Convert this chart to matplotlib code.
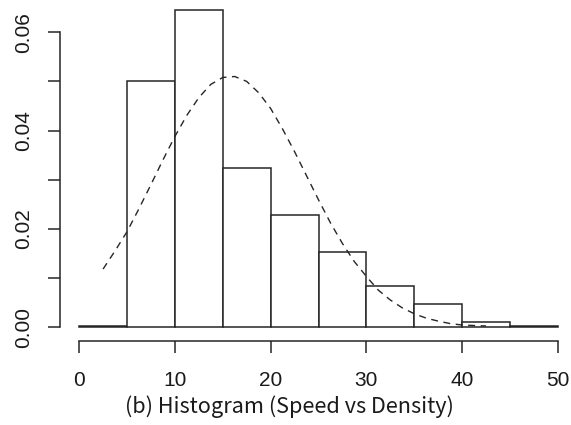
import matplotlib
matplotlib.use("Agg")
import matplotlib.pyplot as plt

# Histogram data (density), bins of width 5 from 0 to 50
bin_edges = [0, 5, 10, 15, 20, 25, 30, 35, 40, 45, 50]
densities = [0.0002, 0.0500, 0.0646, 0.0324, 0.0229, 0.0152, 0.0084, 0.0046, 0.0011, 0.0002]

# Dashed fitted density curve
curve_x = [2.5, 3.75, 5, 6.25, 7.5, 8.75, 10, 11.25, 12.5, 13.75, 15, 16.25, 17.5, 18.75,
           20, 21.25, 22.5, 23.75, 25, 26.25, 27.5, 28.75, 30, 31.25, 32.5, 33.75, 35,
           36.25, 37.5, 38.75, 40, 41.25, 42.5]
curve_y = [0.0118, 0.0155, 0.0194, 0.0241, 0.0290, 0.0340, 0.0388, 0.0431, 0.0467, 0.0494,
           0.0508, 0.0510, 0.0500, 0.0477, 0.0445, 0.0403, 0.0357, 0.0308, 0.0259, 0.0212,
           0.0170, 0.0133, 0.0103, 0.0075, 0.0055, 0.0039, 0.0027, 0.0018, 0.0012, 0.0007,
           0.0004, 0.0003, 0.0002]

x_ticks = [0, 10, 20, 30, 40, 50]
y_ticks = [0.00, 0.01, 0.02, 0.03, 0.04, 0.05, 0.06]
y_tick_labels = ["0.00", "", "0.02", "", "0.04", "", "0.06"]
x_label = "(b) Histogram (Speed vs Density)"

W, H = 571, 425
fig = plt.figure(figsize=(W / 100, H / 100), dpi=100)
left_px, right_px, bottom_px, top_px = 60, 577, 341, -3
ax = fig.add_axes([left_px / W, (H - bottom_px) / H,
                   (right_px - left_px) / W, (bottom_px - top_px) / H])

line_col = "#262626"
lw = 1.1

widths = [bin_edges[i + 1] - bin_edges[i] for i in range(len(densities))]
ax.bar(bin_edges[:-1], densities, width=widths, align="edge",
       facecolor="white", edgecolor=line_col, linewidth=lw, zorder=2)
ax.plot(curve_x, curve_y, color=line_col, linewidth=1.0, dashes=(5, 4), zorder=3)

ax.set_xlim(-2, 52)
ppu = (327 - 32.3) / 0.06
ax.set_ylim(-(341 - 327) / ppu, 0.06 + (32.3 + 3) / ppu)

for s in ["top", "right"]:
    ax.spines[s].set_visible(False)
ax.spines["left"].set_bounds(0, 0.06)
ax.spines["bottom"].set_bounds(0, 50)
for s in ["left", "bottom"]:
    ax.spines[s].set_linewidth(lw)
    ax.spines[s].set_color(line_col)

ax.set_xticks(x_ticks)
ax.set_xticklabels([str(t) for t in x_ticks])
ax.set_yticks(y_ticks)
ax.set_yticklabels(y_tick_labels, rotation=90, va="center")
ax.tick_params(axis="both", length=8.6, width=lw, color=line_col,
               labelsize=15, labelcolor="#1a1a1a")
ax.tick_params(axis="x", pad=13)
ax.tick_params(axis="y", pad=11)
for lab in ax.get_xticklabels() + ax.get_yticklabels():
    lab.set_family(["Liberation Sans", "DejaVu Sans"])

fig.text(289 / W, 1 - 407 / H, x_label, ha="center", va="center",
         fontsize=15.6, color="#1a1a1a", family=["Noto Sans CJK KR", "DejaVu Sans"])

fig.savefig("out.png", dpi=100)
